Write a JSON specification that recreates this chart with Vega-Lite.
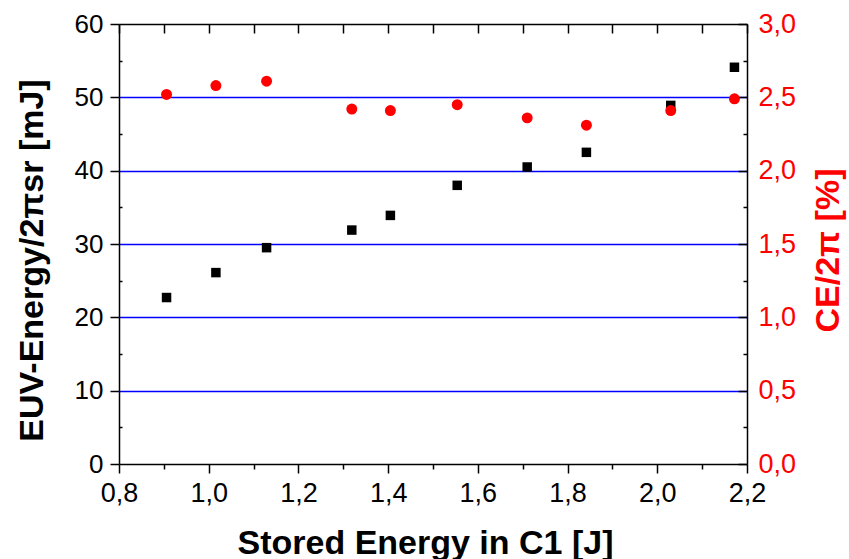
{
  "$schema": "https://vega.github.io/schema/vega-lite/v6.json",
  "width": 628,
  "height": 440,
  "autosize": {"type": "none"},
  "padding": {"left": 119, "top": 24, "right": 102, "bottom": 95},
  "background": "white",
  "config": {
    "view": {"stroke": null},
    "axis": {
      "labelFont": "Liberation Sans",
      "titleFont": "Liberation Sans",
      "domainColor": "black",
      "tickColor": "black",
      "domainWidth": 1.5,
      "tickWidth": 1.5,
      "grid": false,
      "labelColor": "black",
      "titleColor": "black",
      "labelFontSize": 27,
      "titleFontSize": 34,
      "titleFontWeight": "bold",
      "labelFlush": false,
      "labelOverlap": false,
      "labelBound": false
    }
  },
  "datasets": {
    "d": [
      {"E": 0.906, "euv": 22.7, "ce": 2.52},
      {"E": 1.016, "euv": 26.1, "ce": 2.58},
      {"E": 1.129, "euv": 29.5, "ce": 2.61},
      {"E": 1.319, "euv": 31.9, "ce": 2.42},
      {"E": 1.405, "euv": 33.9, "ce": 2.41},
      {"E": 1.554, "euv": 38.0, "ce": 2.45},
      {"E": 1.71, "euv": 40.5, "ce": 2.36},
      {"E": 1.842, "euv": 42.5, "ce": 2.31},
      {"E": 2.03, "euv": 48.9, "ce": 2.41},
      {"E": 2.172, "euv": 54.1, "ce": 2.49}
    ]
  },
  "data": {"name": "d"},
  "resolve": {"scale": {"y": "independent"}, "axis": {"x": "independent", "y": "independent"}},
  "layer": [
    {
      "mark": {"type": "point", "opacity": 0},
      "encoding": {
        "x": {"field": "E", "type": "quantitative", "scale": {"domain": [0.8, 2.2], "nice": false, "zero": false},
          "axis": {"orient": "bottom", "values": [0.9, 1.1, 1.3, 1.5, 1.7, 1.9, 2.1], "tickSize": 5, "labels": false, "domain": false, "title": null}},
        "y": {"field": "euv", "type": "quantitative", "scale": {"domain": [0, 60], "nice": false, "zero": false},
          "axis": {"orient": "left", "values": [10, 20, 30, 40, 50], "grid": true, "gridColor": "#0000ff", "gridWidth": 1.3, "gridOpacity": 1, "ticks": false, "labels": false, "domain": false, "title": null}}
      }
    },
    {
      "mark": {"type": "point", "opacity": 0},
      "encoding": {
        "x": {"field": "E", "type": "quantitative", "axis": null},
        "y": {"field": "euv", "type": "quantitative", "scale": {"domain": [0, 60], "nice": false, "zero": false},
          "axis": {"orient": "left", "values": [5, 15, 25, 35, 45, 55], "tickSize": -3, "labels": false, "domain": false, "title": null}}
      }
    },
    {
      "mark": {"type": "point", "opacity": 0},
      "encoding": {
        "x": {"field": "E", "type": "quantitative", "axis": null},
        "y": {"field": "ce", "type": "quantitative", "scale": {"domain": [0, 3], "nice": false, "zero": false},
          "axis": {"orient": "right", "values": [0.25, 0.75, 1.25, 1.75, 2.25, 2.75], "tickSize": -4, "labels": false, "domain": false, "title": null}}
      }
    },
    {
      "mark": {"type": "square", "size": 90, "color": "black", "opacity": 1, "filled": true},
      "encoding": {
        "x": {"field": "E", "type": "quantitative",
          "axis": {"orient": "bottom", "values": [0.8, 1.0, 1.2, 1.4, 1.6, 1.8, 2.0, 2.2], "tickSize": 9, "labelPadding": 7,
            "labelExpr": "replace(format(datum.value, '.1f'), '.', ',')",
            "title": "Stored Energy in C1 [J]", "titleX": 306, "titleY": 89, "titleAlign": "center", "titleBaseline": "alphabetic", "titleAngle": 0}},
        "y": {"field": "euv", "type": "quantitative", "scale": {"domain": [0, 60], "nice": false, "zero": false},
          "axis": {"orient": "left", "values": [0, 10, 20, 30, 40, 50, 60], "tickSize": 9, "labelPadding": 7, "labelFontSize": 26,
            "labelExpr": "format(datum.value, 'd')",
            "title": "EUV-Energy/2πsr [mJ]", "titleX": -87, "titleY": 236, "titleAngle": 270, "titleAlign": "center", "titleBaseline": "middle"}}
      }
    },
    {
      "mark": {"type": "circle", "size": 120, "color": "#ff0000", "opacity": 1},
      "encoding": {
        "x": {"field": "E", "type": "quantitative",
          "axis": {"orient": "top", "values": [0.8, 0.9, 1.0, 1.1, 1.2, 1.3, 1.4, 1.5, 1.6, 1.7, 1.8, 1.9, 2.0, 2.1, 2.2], "tickSize": -9, "labels": false, "title": null}},
        "y": {"field": "ce", "type": "quantitative", "scale": {"domain": [0, 3], "nice": false, "zero": false},
          "axis": {"orient": "right", "values": [0, 0.5, 1, 1.5, 2, 2.5, 3], "tickSize": -9, "labelPadding": 20, "labelColor": "#ff0000",
            "labelExpr": "replace(format(datum.value, '.1f'), '.', ',')",
            "title": "CE/2π [%]", "titleColor": "#ff0000", "titleX": 81, "titleY": 226, "titleAngle": 270, "titleAlign": "center", "titleBaseline": "middle"}}
      }
    }
  ]
}
